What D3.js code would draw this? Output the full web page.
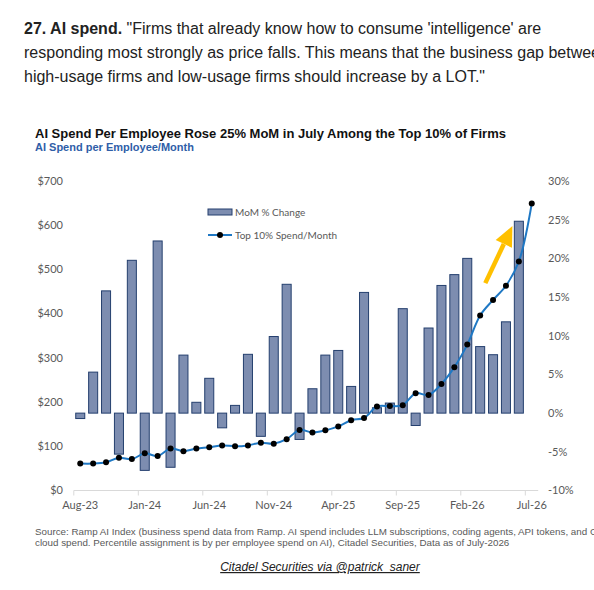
<!DOCTYPE html>
<html>
<head>
<meta charset="utf-8">
<script src="https://cdn.jsdelivr.net/npm/d3@7"></script>
<style>
  body { margin: 0; background: #fff; }
  svg { display: block; }
</style>
</head>
<body>
<script>
var svgWidth = 594;
var svgHeight = 590;

// months Aug-23 .. Jul-26
var months = ["Aug-23","Sep-23","Oct-23","Nov-23","Dec-23","Jan-24","Feb-24","Mar-24","Apr-24","May-24",
  "Jun-24","Jul-24","Aug-24","Sep-24","Oct-24","Nov-24","Dec-24","Jan-25","Feb-25","Mar-25",
  "Apr-25","May-25","Jun-25","Jul-25","Aug-25","Sep-25","Oct-25","Nov-25","Dec-25","Jan-26",
  "Feb-26","Mar-26","Apr-26","May-26","Jun-26","Jul-26"];

// top 10% AI spend per employee per month ($, left axis)
var spend = [61, 61, 64, 74, 71, 84, 78, 95, 89, 95,
  98, 102, 100, 102, 108, 106, 116, 137, 131, 136,
  145, 159, 164, 190, 191, 193, 220, 216, 241, 279,
  330, 396, 431, 463, 518, 649];

// MoM % change (right axis)
var mom = [-0.7, 5.3, 15.8, -5.3, 19.75, -7.4, 22.25, -7.0, 7.5, 1.4,
  4.5, -1.9, 1.0, 7.6, -3.0, 9.9, 16.65, -3.4, 3.15, 7.5,
  8.1, 3.45, 15.6, 0.7, 1.3, 13.5, -1.6, 11.0, 16.5, 17.9,
  20.0, 8.6, 7.55, 11.8, 24.8, null];

var leftTicks = [0, 100, 200, 300, 400, 500, 600, 700];
var rightTicks = [-10, -5, 0, 5, 10, 15, 20, 25, 30];
var xTickLabels = ["Aug-23", "Jan-24", "Jun-24", "Nov-24", "Apr-25", "Sep-25", "Feb-26", "Jul-26"];

// arrow annotation, in (month index, %) units
var arrowFrom = [31.4, 16.8];
var arrowTo = [33.5, 24.2];

var svg = d3.select("body").append("svg")
  .attr("width", svgWidth)
  .attr("height", svgHeight);

// ---- header text
var head = svg.append("g")
  .style("font-family", "'Liberation Sans', Arial, sans-serif")
  .style("font-size", "16px")
  .attr("fill", "#222");

var l1 = head.append("text").attr("x", 24).attr("y", 34);
l1.append("tspan").attr("font-weight", "bold").text("27. AI spend.");
l1.append("tspan").text(" \"Firms that already know how to consume 'intelligence' are");
head.append("text").attr("x", 24).attr("y", 58)
  .text("responding most strongly as price falls. This means that the business gap between");
head.append("text").attr("x", 24).attr("y", 82)
  .text("high-usage firms and low-usage firms should increase by a LOT.\"");

// ---- chart title
svg.append("text")
  .attr("x", 35).attr("y", 138)
  .style("font-family", "'Liberation Sans', Arial, sans-serif")
  .style("font-size", "13px")
  .attr("font-weight", "bold")
  .attr("fill", "#111")
  .text("AI Spend Per Employee Rose 25% MoM in July Among the Top 10% of Firms");

svg.append("text")
  .attr("x", 35).attr("y", 151)
  .style("font-family", "'Liberation Sans', Arial, sans-serif")
  .style("font-size", "11px")
  .attr("font-weight", "bold")
  .attr("fill", "#2f5ea8")
  .text("AI Spend per Employee/Month");

// ---- scales
var x = d3.scaleBand()
  .domain(months)
  .range([73.8, 538.2])
  .padding(0);

var barWidth = x.bandwidth() * 0.7;

var yLeft = d3.scaleLinear().domain([0, 700]).range([490.5, 181]);
var yRight = d3.scaleLinear().domain([-10, 30]).range([490.5, 181]);

var cx = d => x(d) + x.bandwidth() / 2;

var tickFont = "Lato, 'Noto Sans', sans-serif";

// left axis labels
svg.append("g").selectAll("text")
  .data(leftTicks)
  .enter()
  .append("text")
  .attr("x", 63)
  .attr("y", d => yLeft(d))
  .attr("dy", "0.35em")
  .attr("text-anchor", "end")
  .style("font-family", tickFont)
  .style("font-size", "11px")
  .attr("fill", "#595959")
  .text(d => "$" + d);

// right axis labels
svg.append("g").selectAll("text")
  .data(rightTicks)
  .enter()
  .append("text")
  .attr("x", 548)
  .attr("y", d => yRight(d))
  .attr("dy", "0.35em")
  .style("font-family", tickFont)
  .style("font-size", "11px")
  .attr("fill", "#595959")
  .text(d => d + "%");

// x axis
var xAxis = svg.append("g");
xAxis.append("line")
  .attr("x1", x.range()[0]).attr("x2", x.range()[1])
  .attr("y1", yLeft(0)).attr("y2", yLeft(0))
  .attr("stroke", "#d9d9d9")
  .attr("stroke-width", 1);

xAxis.selectAll(".tk")
  .data(xTickLabels)
  .enter()
  .append("line")
  .attr("x1", d => x(d)).attr("x2", d => x(d))
  .attr("y1", yLeft(0)).attr("y2", yLeft(0) + 5)
  .attr("stroke", "#d9d9d9");

xAxis.selectAll(".lbl")
  .data(xTickLabels)
  .enter()
  .append("text")
  .attr("x", d => cx(d))
  .attr("y", yLeft(0) + 18)
  .attr("text-anchor", "middle")
  .style("font-family", tickFont)
  .style("font-size", "11px")
  .attr("fill", "#595959")
  .text(d => d);

// bars: MoM % change
var barData = months.map((m, i) => ({ m: m, v: mom[i] })).filter(d => d.v !== null);

svg.append("g").selectAll(".bar")
  .data(barData)
  .enter()
  .append("rect")
  .classed("bar", true)
  .attr("x", d => cx(d.m) - barWidth / 2)
  .attr("width", barWidth)
  .attr("y", d => yRight(Math.max(0, d.v)))
  .attr("height", d => Math.abs(yRight(d.v) - yRight(0)))
  .attr("fill", "#7d8db0")
  .attr("stroke", "#243f6e")
  .attr("stroke-width", 1);

// arrow
var ax1 = cx(months[0]) + arrowFrom[0] * x.step(), ay1 = yRight(arrowFrom[1]);
var ax2 = cx(months[0]) + arrowTo[0] * x.step(), ay2 = yRight(arrowTo[1]);
var ang = Math.atan2(ay2 - ay1, ax2 - ax1);
var headLen = 20, headHalf = 9;
var bx = ax2 - headLen * Math.cos(ang), by = ay2 - headLen * Math.sin(ang);
svg.append("line")
  .attr("x1", ax1).attr("y1", ay1)
  .attr("x2", bx).attr("y2", by)
  .attr("stroke", "#ffc000")
  .attr("stroke-width", 4.5);
svg.append("path")
  .attr("d", d3.line()([
    [ax2, ay2],
    [bx + headHalf * Math.sin(ang), by - headHalf * Math.cos(ang)],
    [bx - headHalf * Math.sin(ang), by + headHalf * Math.cos(ang)]
  ]) + "Z")
  .attr("fill", "#ffc000");

// line: Top 10% spend
var lineData = months.map((m, i) => ({ m: m, v: spend[i] }));
svg.append("path")
  .datum(lineData)
  .attr("d", d3.line()
    .x(d => cx(d.m))
    .y(d => yLeft(d.v))
    .curve(d3.curveCatmullRom.alpha(0.5)))
  .attr("fill", "none")
  .attr("stroke", "#1f78c4")
  .attr("stroke-width", 2);

svg.append("g").selectAll("circle")
  .data(lineData)
  .enter()
  .append("circle")
  .attr("cx", d => cx(d.m))
  .attr("cy", d => yLeft(d.v))
  .attr("r", 3)
  .attr("fill", "#000");

// legend
var legend = svg.append("g")
  .style("font-family", tickFont)
  .style("font-size", "10px")
  .attr("fill", "#595959");
legend.append("rect")
  .attr("x", 208).attr("y", 209)
  .attr("width", 24).attr("height", 6)
  .attr("fill", "#7d8db0").attr("stroke", "#243f6e");
legend.append("text").attr("x", 235).attr("y", 212).attr("dy", "0.35em").text("MoM % Change");
legend.append("line")
  .attr("x1", 208).attr("x2", 232)
  .attr("y1", 235).attr("y2", 235)
  .attr("stroke", "#1f78c4").attr("stroke-width", 2);
legend.append("circle").attr("cx", 220).attr("cy", 235).attr("r", 3).attr("fill", "#000");
legend.append("text").attr("x", 235).attr("y", 235).attr("dy", "0.35em").text("Top 10% Spend/Month");

// source
var src = svg.append("g")
  .style("font-family", "'Liberation Sans', Arial, sans-serif")
  .style("font-size", "9.8px")
  .attr("fill", "#595959");
src.append("text").attr("x", 35).attr("y", 535)
  .text("Source: Ramp AI Index (business spend data from Ramp. AI spend includes LLM subscriptions, coding agents, API tokens, and GPU");
src.append("text").attr("x", 35).attr("y", 546)
  .text("cloud spend. Percentile assignment is by per employee spend on AI), Citadel Securities, Data as of July-2026");

svg.append("text")
  .attr("x", 320).attr("y", 571)
  .attr("text-anchor", "middle")
  .style("font-family", "'Liberation Sans', Arial, sans-serif")
  .style("font-size", "12px")
  .style("font-style", "italic")
  .style("text-decoration", "underline")
  .attr("fill", "#222")
  .text("Citadel Securities via @patrick_saner");
</script>
</body>
</html>
